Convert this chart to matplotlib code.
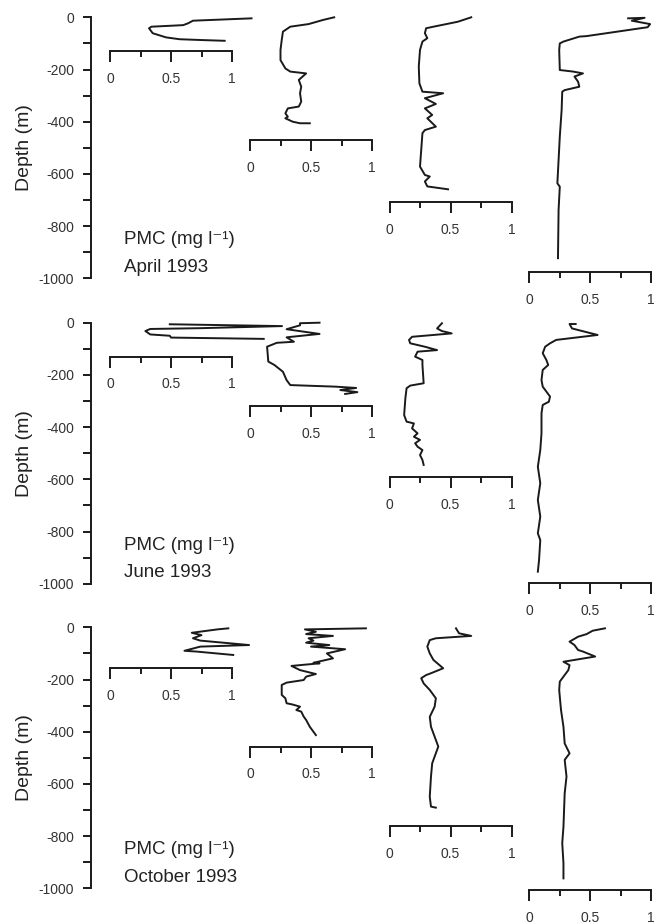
import numpy as np
import matplotlib
matplotlib.use('Agg')
import matplotlib.pyplot as plt

plt.rcParams['font.family'] = ['Liberation Sans', 'DejaVu Sans']
plt.rcParams['axes.unicode_minus'] = False

# ---------------- data: PMC (mg l-1) vs depth (m)
# April 1993
apr1_pmc = [1.16, 0.68, 0.64, 0.60, 0.34, 0.32, 0.35, 0.46, 0.57, 0.74, 0.94]
apr1_dep = [-4, -13, -23, -30, -36, -42, -61, -77, -84, -87, -90]
apr2_pmc = [0.69, 0.60, 0.48, 0.33, 0.27, 0.26, 0.25, 0.25, 0.29, 0.33, 0.46, 0.40, 0.42,
            0.41, 0.42, 0.40, 0.31, 0.29, 0.31, 0.29, 0.35, 0.41, 0.49]
apr2_dep = [0, -10, -26, -36, -55, -87, -125, -164, -196, -208, -215, -240, -266,
            -291, -323, -342, -349, -368, -381, -387, -400, -406, -406]
apr3_pmc = [0.67, 0.56, 0.36, 0.30, 0.29, 0.31, 0.27, 0.25, 0.24, 0.245, 0.27, 0.44, 0.29,
            0.38, 0.29, 0.35, 0.31, 0.38, 0.29, 0.27, 0.26, 0.25, 0.29, 0.33, 0.29, 0.31, 0.48]
apr3_dep = [0, -17, -36, -42, -61, -80, -93, -125, -189, -253, -285, -291, -310,
            -332, -349, -374, -387, -419, -432, -444, -508, -572, -604, -610, -629, -648, -659]
apr4_pmc = [0.81, 0.945, 0.84, 0.99, 0.97, 0.47, 0.41, 0.28, 0.25, 0.245, 0.25, 0.36, 0.44,
            0.37, 0.40, 0.41, 0.29, 0.27, 0.265, 0.25, 0.24, 0.23, 0.25, 0.24, 0.235]
apr4_dep = [-4, -2, -13, -26, -38, -72, -74, -93, -100, -125, -202, -208, -215,
            -227, -247, -266, -279, -285, -355, -457, -547, -636, -649, -738, -923]

# June 1993
jun1_pmc = [0.49, 1.41, 0.74, 0.33, 0.29, 0.33, 0.49, 0.50, 1.26]
jun1_dep = [-6, -13, -21, -24, -32, -45, -50, -57, -62]
jun2_pmc = [0.57, 0.41, 0.41, 0.30, 0.57, 0.30, 0.36, 0.22, 0.14, 0.15, 0.20, 0.27, 0.30,
            0.33, 0.70, 0.87, 0.74, 0.88, 0.78]
jun2_dep = [0, -2, -10, -25, -43, -56, -73, -77, -92, -149, -162, -188, -220,
            -239, -245, -250, -258, -266, -273]
jun3_pmc = [0.43, 0.39, 0.43, 0.51, 0.185, 0.16, 0.17, 0.29, 0.39, 0.23, 0.21, 0.27, 0.27,
            0.28, 0.17, 0.14, 0.13, 0.12, 0.14, 0.20, 0.185, 0.23, 0.20, 0.25, 0.21, 0.23,
            0.27, 0.25, 0.27, 0.28]
jun3_dep = [-2, -22, -32, -41, -54, -66, -79, -92, -105, -111, -130, -143, -162,
            -232, -241, -251, -290, -354, -379, -386, -405, -424, -437, -449, -462, -475,
            -488, -507, -526, -545]
jun4_pmc = [0.38, 0.33, 0.35, 0.56, 0.22, 0.17, 0.13, 0.11, 0.14, 0.155, 0.11, 0.10, 0.11,
            0.17, 0.16, 0.11, 0.10, 0.10, 0.09, 0.07, 0.09, 0.07, 0.09, 0.07, 0.09, 0.08, 0.07]
jun4_dep = [-5, -5, -22, -47, -66, -79, -92, -117, -143, -162, -181, -220, -245,
            -283, -303, -315, -347, -424, -488, -552, -615, -679, -743, -807, -833, -909, -954]

# October 1993
oct1_pmc = [0.97, 0.88, 0.67, 0.75, 0.68, 0.74, 1.14, 0.74, 0.61, 0.71, 1.01]
oct1_dep = [-4, -8, -21, -30, -42, -51, -68, -74, -90, -93, -106]
oct2_pmc = [0.95, 0.45, 0.54, 0.46, 0.68, 0.48, 0.52, 0.46, 0.65, 0.50, 0.78, 0.63, 0.68,
            0.52, 0.57, 0.34, 0.41, 0.54, 0.46, 0.44, 0.30, 0.26, 0.26, 0.29, 0.30, 0.35,
            0.41, 0.38, 0.42, 0.44, 0.46, 0.49, 0.54]
oct2_dep = [-4, -8, -17, -26, -33, -42, -51, -59, -68, -74, -84, -100, -119,
            -136, -138, -148, -164, -179, -189, -202, -212, -221, -259, -272, -291, -296,
            -304, -317, -323, -342, -355, -381, -413]
oct3_pmc = [0.545, 0.57, 0.67, 0.38, 0.33, 0.31, 0.33, 0.36, 0.44, 0.34, 0.30, 0.26, 0.28,
            0.33, 0.38, 0.37, 0.33, 0.34, 0.40, 0.35, 0.34, 0.33, 0.34, 0.38]
oct3_dep = [-4, -23, -33, -42, -49, -74, -100, -125, -157, -176, -183, -195, -215,
            -240, -272, -304, -343, -381, -457, -521, -572, -649, -687, -691]
oct4_pmc = [0.62, 0.52, 0.47, 0.40, 0.33, 0.37, 0.40, 0.44, 0.54, 0.28, 0.33, 0.32, 0.28,
            0.25, 0.245, 0.25, 0.26, 0.28, 0.29, 0.33, 0.29, 0.305, 0.29, 0.28, 0.27, 0.28, 0.28]
oct4_dep = [-4, -13, -26, -36, -55, -68, -87, -93, -112, -132, -145, -164, -189,
            -208, -240, -266, -317, -381, -445, -483, -508, -572, -636, -764, -827, -904, -962]

month_labels = ['April 1993', 'June 1993', 'October 1993']
profiles = [
    [(apr1_pmc, apr1_dep), (apr2_pmc, apr2_dep), (apr3_pmc, apr3_dep), (apr4_pmc, apr4_dep)],
    [(jun1_pmc, jun1_dep), (jun2_pmc, jun2_dep), (jun3_pmc, jun3_dep), (jun4_pmc, jun4_dep)],
    [(oct1_pmc, oct1_dep), (oct2_pmc, oct2_dep), (oct3_pmc, oct3_dep), (oct4_pmc, oct4_dep)],
]
# depth at which each profile's own PMC scale sits
scale_depths = [[-130, -471, -707, -976],
                [-130, -319, -590, -998],
                [-157, -457, -761, -1006]]

# ---------------- layout (in pixels of a 660x923 figure)
W, H = 660, 923
panel_top = [17.3, 322.7, 627.3]
panel_h = 261.0
spine_x = 90.7
prof_x0 = [110, 250, 389.5, 529.3]
prof_w = 122.0
ink = '#1a1a1a'

fig = plt.figure(figsize=(W / 100, H / 100), dpi=100)


def px_axes(x, y, w, h):
    return fig.add_axes([x / W, 1 - (y + h) / H, w / W, h / H])


for p in range(3):
    y0 = panel_top[p]

    # depth axis
    ax = px_axes(spine_x, y0, 40, panel_h)
    ax.patch.set_visible(False)
    ax.set_ylim(-1000, 0)
    for s in ['top', 'right', 'bottom']:
        ax.spines[s].set_visible(False)
    ax.spines['left'].set_linewidth(1.4)
    ax.spines['left'].set_color(ink)
    ax.set_xticks([])
    ax.set_yticks(np.arange(-1000, 1, 200))
    ax.set_yticks(np.arange(-900, 0, 200), minor=True)
    ax.tick_params(axis='y', which='both', length=6, width=1.4, color=ink,
                   labelsize=10, labelcolor='#333333', pad=6)
    ax.set_ylabel('Depth (m)', fontsize=14, color='#222222', labelpad=4)

    fig.text(124 / W, 1 - (y0 + 227) / H, 'PMC (mg l\u207b\u00b9)',
             fontsize=13.5, color='#222222', va='baseline')
    fig.text(124 / W, 1 - (y0 + 254.5) / H, month_labels[p],
             fontsize=13.5, color='#222222', va='baseline')

    # four profiles, each with its own PMC scale
    for k in range(4):
        pmc, dep = profiles[p][k]
        pa = px_axes(prof_x0[k], y0, prof_w, panel_h * 1.05)
        pa.patch.set_visible(False)
        pa.set_xlim(0, 1)
        pa.set_ylim(-1050, 0)
        pa.plot(pmc, dep, color=ink, lw=1.4, clip_on=False, solid_joinstyle='round')
        for s in ['top', 'right', 'left']:
            pa.spines[s].set_visible(False)
        pa.spines['bottom'].set_position(('data', scale_depths[p][k]))
        pa.spines['bottom'].set_linewidth(1.4)
        pa.spines['bottom'].set_color(ink)
        pa.set_yticks([])
        pa.set_xticks([0, 0.5, 1])
        pa.set_xticklabels(['0', '0.5', '1'])
        pa.set_xticks([0.25, 0.75], minor=True)
        pa.tick_params(axis='x', which='major', length=8, width=1.4, color=ink,
                       labelsize=10, labelcolor='#333333', pad=7)
        pa.tick_params(axis='x', which='minor', length=4, width=1.4, color=ink)

fig.savefig('out.png', dpi=100)
